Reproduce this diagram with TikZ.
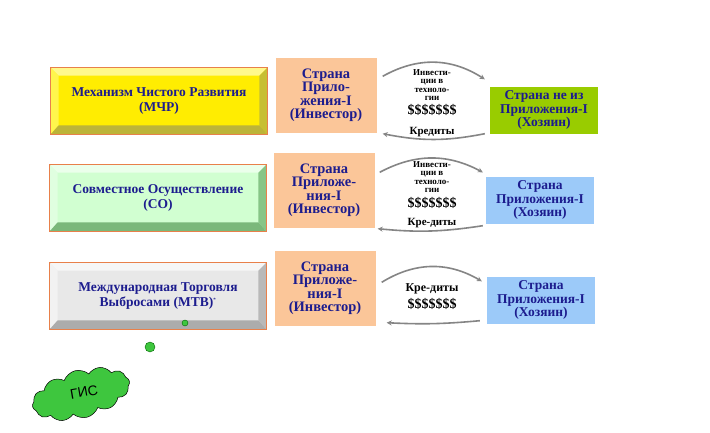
\documentclass[tikz,border=0pt]{standalone}
\usepackage{fontspec}
\setmainfont{Liberation Serif}
\setsansfont{Liberation Sans}
\usetikzlibrary{shapes.symbols,arrows.meta}

\definecolor{navy}{HTML}{1C1C8E}
\definecolor{edge}{HTML}{E8804A}
\definecolor{peach}{HTML}{FBC699}
\definecolor{lime}{HTML}{99CC00}
\definecolor{sky}{HTML}{9CCAF9}
\definecolor{arrgray}{HTML}{858585}
\definecolor{gisgreen}{HTML}{3EC63E}

\tikzset{
  mech/.style={rectangle,draw=edge,line width=0.7pt,minimum width=216pt,minimum height=66pt,
    align=center,text=navy,font=\fontsize{12.5}{14}\selectfont\bfseries,inner sep=0pt},
  mechtext/.style={text=navy,font=\fontsize{13.5}{15}\selectfont\bfseries,align=center},
  inv/.style={rectangle,fill=peach,minimum width=101pt,minimum height=75pt,align=center,
    text=navy,font=\fontsize{14.5}{13.5}\selectfont\bfseries,inner sep=0pt},
  host/.style={rectangle,minimum width=108pt,minimum height=47pt,align=center,
    text=navy,font=\fontsize{13.5}{13.3}\selectfont\bfseries,inner sep=0pt},
  small/.style={align=center,inner sep=0pt,font=\fontsize{9}{8.5}\selectfont\bfseries},
  cash/.style={inner sep=0pt,font=\fontsize{14}{14}\selectfont\bfseries},
  cred/.style={inner sep=0pt,font=\fontsize{#1}{12}\selectfont\bfseries},
  arr/.style={draw=arrgray,line width=1.6pt,-{Stealth[length=5pt,width=5pt]}},
  dot/.style={circle,fill=gisgreen,draw=green!40!black,line width=0.4pt,inner sep=0pt}
}

% bevelled frame: node, top, left, right, bottom
\newcommand{\bevel}[5]{%
  \fill[#2] (#1.north west) -- (#1.north east) -- ([shift={(-8,8)}]#1.north east)
    -- ([shift={(8,8)}]#1.north west) -- cycle;
  \fill[#3] (#1.north west) -- ([shift={(8,8)}]#1.north west)
    -- ([shift={(8,-9)}]#1.south west) -- (#1.south west) -- cycle;
  \fill[#4] (#1.north east) -- (#1.south east) -- ([shift={(-8,-9)}]#1.south east)
    -- ([shift={(-8,8)}]#1.north east) -- cycle;
  \fill[#5] (#1.south west) -- ([shift={(8,-9)}]#1.south west)
    -- ([shift={(-8,-9)}]#1.south east) -- (#1.south east) -- cycle;
  \draw[edge,line width=0.7pt] (#1.north west) rectangle (#1.south east);}

\begin{document}
\begin{tikzpicture}[x=1pt,y=-1pt]
    \useasboundingbox[fill=white] (0,0) rectangle (710,432);

    % left column
    \node[mech,fill=yellow!95!orange] (cdm) at (159,101) {};
    \bevel{cdm}{yellow!45}{yellow!70}{yellow!75!black}{yellow!70!black}
    \node[mechtext] (cdmtext) at (cdm) {Механизм Чистого Развития\\(МЧР)};

    \node[mech,fill=green!18!white] (ji) at (158,198) {};
    \bevel{ji}{green!8!white}{green!12!white}{green!35!gray!70}{green!30!gray!80}
    \node[mechtext] (jitext) at (ji) {Совместное Осуществление\\(СО)};

    \node[mech,fill=gray!18] (et) at (158,296) {};
    \bevel{et}{gray!7}{gray!10}{gray!55}{gray!65}
    \node[mechtext] (ettext) at (et) {Международная Торговля\\Выбросами (МТВ)\textsuperscript{\tiny *}};

    % investors
    \node[inv] (inv1) at (326,95) {Страна\\Прило-\\жения-I\\(Инвестор)};
    \node[inv] (inv2) at (324,190) {Страна\\Приложе-\\ния-I\\(Инвестор)};
    \node[inv] (inv3) at (325,288) {Страна\\Приложе-\\ния-I\\(Инвестор)};

    % hosts
    \node[host,fill=lime] (host1) at (544,110) {Страна не из\\Приложения-I\\(Хозяин)};
    \node[host,fill=sky] (host2) at (540,200) {Страна\\Приложения-I\\(Хозяин)};
    \node[host,fill=sky] (host3) at (541,300) {Страна\\Приложения-I\\(Хозяин)};

    % middle labels
    \node[small] (tech1) at (432,85) {Инвести-\\ции в\\техноло-\\гии};
    \node[cash] (cash1) at (432,110) {\$\$\$\$\$\$\$};
    \node[cred=11] (cred1) at (432,132) {Кредиты};
    \node[small] (tech2) at (432,177) {Инвести-\\ции в\\техноло-\\гии};
    \node[cash] (cash2) at (432,203) {\$\$\$\$\$\$\$};
    \node[cred=11] (cred2) at (432,223) {Кре-диты};
    \node[cred=12] (cred3) at (432,289) {Кре-диты};
    \node[cash] (cash3) at (432,304) {\$\$\$\$\$\$\$};

    % flows
    \draw[arr] ([shift={(6,19)}]inv1.north east) to[bend left=31] ([shift={(-5,-7)}]host1.north west);
    \draw[arr] ([shift={(-5,0)}]host1.south west) to[bend left=11] ([shift={(6,1)}]inv1.south east);
    \draw[arr] ([shift={(5,20)}]inv2.north east) to[bend left=28] ([shift={(-3,-4)}]host2.north west);
    \draw[arr] ([shift={(-3,2)}]host2.south west) to[bend left=7] ([shift={(3,1)}]inv2.south east);
    \draw[arr] ([shift={(6,32)}]inv3.north east) to[bend left=31] ([shift={(-5,5)}]host3.north west);
    \draw[arr] ([shift={(-7,-3)}]host3.south west) to[bend left=4] ([shift={(11,-3)}]inv3.south east);

    % dots and cloud
    \node[dot,minimum size=6pt] (dot1) at (185,323) {};
    \node[dot,minimum size=10pt] (dot2) at (150,347) {};
    \node[cloud,cloud puffs=12,cloud puff arc=110,aspect=2.2,fill=gisgreen,draw=black,line width=0.5pt,
      minimum width=100pt,minimum height=48pt,rotate=15] (gis) at (81,394) {};
    \node[font=\sffamily\fontsize{14}{14}\selectfont,rotate=10] (gistext) at (84,392) {ГИС};
\end{tikzpicture}
\end{document}
